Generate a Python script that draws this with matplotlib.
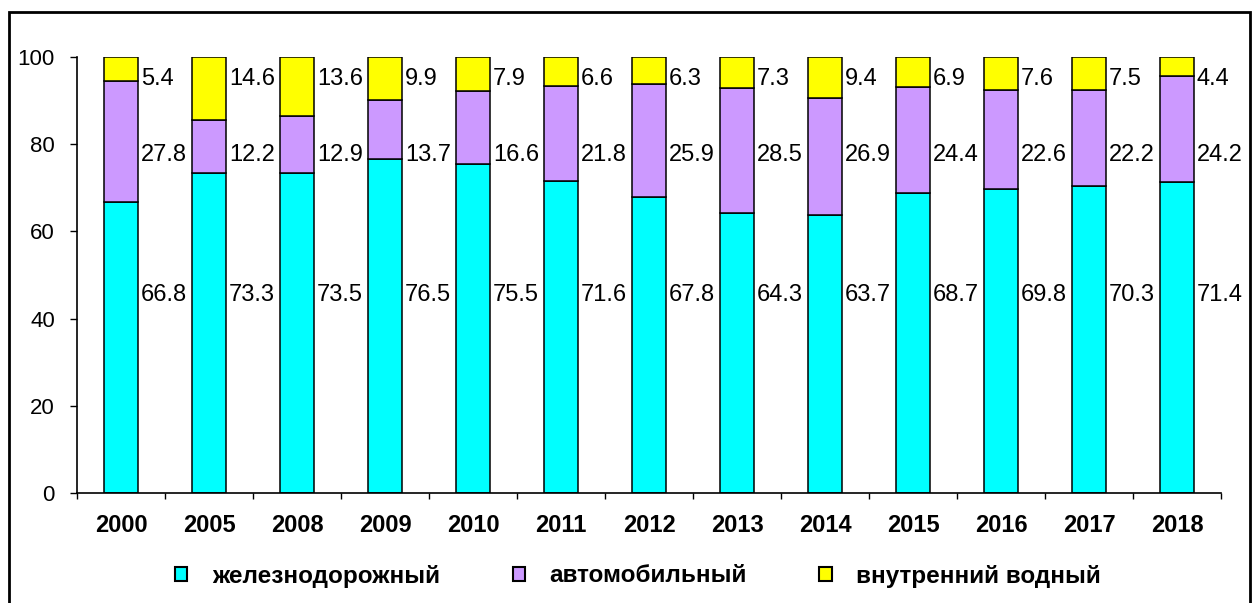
import matplotlib
matplotlib.use("Agg")
import matplotlib.pyplot as plt
from matplotlib.patches import Rectangle
import numpy as np

plt.rcParams['font.family'] = ['Liberation Sans', 'DejaVu Sans']

years = ['2000', '2005', '2008', '2009', '2010', '2011', '2012',
         '2013', '2014', '2015', '2016', '2017', '2018']
rail = [66.8, 73.3, 73.5, 76.5, 75.5, 71.6, 67.8, 64.3, 63.7, 68.7, 69.8, 70.3, 71.4]
road = [27.8, 12.2, 12.9, 13.7, 16.6, 21.8, 25.9, 28.5, 26.9, 24.4, 22.6, 22.2, 24.2]
water = [5.4, 14.6, 13.6, 9.9, 7.9, 6.6, 6.3, 7.3, 9.4, 6.9, 7.6, 7.5, 4.4]
names = ['железнодорожный', 'автомобильный', 'внутренний водный']

colors = ['#00FFFF', '#CC99FF', '#FFFF00']
label_rows = [45.5, 77.5, 95.0]  # heights of the value label rows

fig = plt.figure(figsize=(12.54, 6.03), dpi=100)
ax = fig.add_axes([77 / 1254, 1 - 493 / 603, (1221 - 77) / 1254, (493 - 57) / 603])

x = np.arange(len(years))
w = 0.39
bottom = np.zeros(len(years))
handles = []
for series, color, name, row in zip([rail, road, water], colors, names, label_rows):
    vals = np.array(series)
    b = ax.bar(x, vals, w, bottom=bottom, color=color, edgecolor='black',
               linewidth=1.1, label=name)
    handles.append(b)
    for xi, v in zip(x, vals):
        ax.text(xi + w / 2 + 0.03, row, f'{v:.1f}', ha='left', va='center',
                fontsize=17)
    bottom += vals

ax.set_xlim(-0.5, len(years) - 0.5)
ax.set_ylim(0, 100)
ax.set_yticks(range(0, 101, 20))
ax.tick_params(axis='y', direction='out', length=5, width=1, pad=11, labelsize=16)

ax.set_xticks(np.arange(-0.5, len(years), 1))
ax.set_xticklabels([])
ax.tick_params(axis='x', which='major', direction='out', length=4, width=1)
ax.set_xticks(x, minor=True)
ax.set_xticklabels(years, minor=True, fontsize=17, fontweight='bold')
ax.tick_params(axis='x', which='minor', length=0, pad=15)

for s in ['top', 'right']:
    ax.spines[s].set_visible(False)
for s in ['left', 'bottom']:
    ax.spines[s].set_linewidth(1.2)

leg = fig.legend(handles, names, loc='center', bbox_to_anchor=(638 / 1254, 1 - 576 / 603),
                 ncol=3, frameon=False, handlelength=0.5, handleheight=0.5,
                 handletextpad=1.0, columnspacing=3.0,
                 prop={'size': 17.5, 'weight': 'bold'})
for h in leg.legend_handles:
    h.set_linewidth(1.5)

fig.patches.append(Rectangle((9 / 1254, -0.05), (1250 - 9) / 1254, 1.05 - 12 / 603,
                             transform=fig.transFigure, fill=False,
                             edgecolor='black', linewidth=2))

fig.savefig('out.png', dpi=100)
